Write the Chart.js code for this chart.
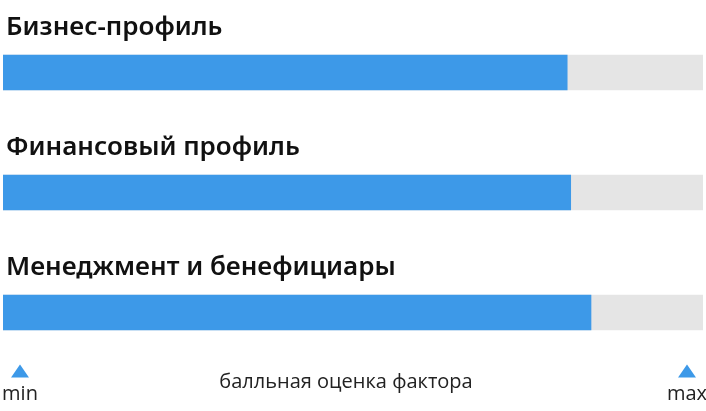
<!DOCTYPE html>
<html>
<head>
<meta charset="utf-8">
<script src="https://cdn.jsdelivr.net/npm/chart.js@4/dist/chart.umd.min.js"></script>
<style>
  html, body { margin: 0; padding: 0; background: #fff; }
  #wrap { width: 706px; height: 411px; position: relative; }
</style>
</head>
<body>
<div id="wrap"><canvas id="factors"></canvas></div>
<script>
// factor scores, 0..100 scale
const categories = ['Бизнес-профиль', 'Финансовый профиль', 'Менеджмент и бенефициары'];
const scores = [80.6, 81.1, 84.0];
const trackValues = [100, 100, 100];
const axisEnds = ['min', 'max'];
const axisTitle = 'балльная оценка фактора';

const BLUE = '#3d99e8';
const GREY = '#e5e5e5';
const BAR_H = 35;

// titles above every bar + min/max markers underneath
const factorLabels = {
  id: 'factorLabels',
  afterDraw(chart) {
    const ctx = chart.ctx;
    const y = chart.scales.y;
    const x = chart.scales.x;
    ctx.save();
    ctx.fillStyle = '#111';
    ctx.font = '600 26px "Noto Sans"';
    ctx.textAlign = 'left';
    ctx.textBaseline = 'alphabetic';
    categories.forEach(function (c, i) {
      var top = y.getPixelForValue(i) - BAR_H / 2;
      ctx.fillText(c, x.left + 3, top - 20);
    });

    // bottom axis
    var base = chart.chartArea.bottom;
    var ends = [x.getPixelForValue(x.min) + 17, x.getPixelForValue(x.max) - 16];
    ctx.fillStyle = BLUE;
    ends.forEach(function (px) {
      ctx.beginPath();
      ctx.moveTo(px - 9, base + 5);
      ctx.lineTo(px + 9, base + 5);
      ctx.lineTo(px, base - 8);
      ctx.closePath();
      ctx.fill();
    });
    ctx.fillStyle = '#222';
    ctx.font = '20px "Open Sans"';
    ctx.textAlign = 'center';
    ends.forEach(function (px, i) {
      ctx.fillText(axisEnds[i], px, base + 27);
    });
    ctx.fillText(axisTitle, 346, base + 15);
    ctx.restore();
  }
};

new Chart(document.getElementById('factors'), {
  type: 'bar',
  data: {
    labels: categories,
    datasets: [
      {
        label: 'score',
        data: scores,
        backgroundColor: BLUE,
        barThickness: BAR_H,
        grouped: false,
        order: 1
      },
      {
        label: 'max',
        data: trackValues,
        backgroundColor: GREY,
        barThickness: BAR_H,
        grouped: false,
        order: 2
      }
    ]
  },
  options: {
    indexAxis: 'y',
    responsive: true,
    maintainAspectRatio: false,
    animation: false,
    layout: { padding: { left: 3, right: 3, top: 12.5, bottom: 38.5 } },
    scales: {
      x: { min: 0, max: 100, display: false },
      y: { display: false }
    },
    plugins: {
      legend: { display: false },
      tooltip: { enabled: false }
    }
  },
  plugins: [factorLabels]
});
</script>
</body>
</html>
